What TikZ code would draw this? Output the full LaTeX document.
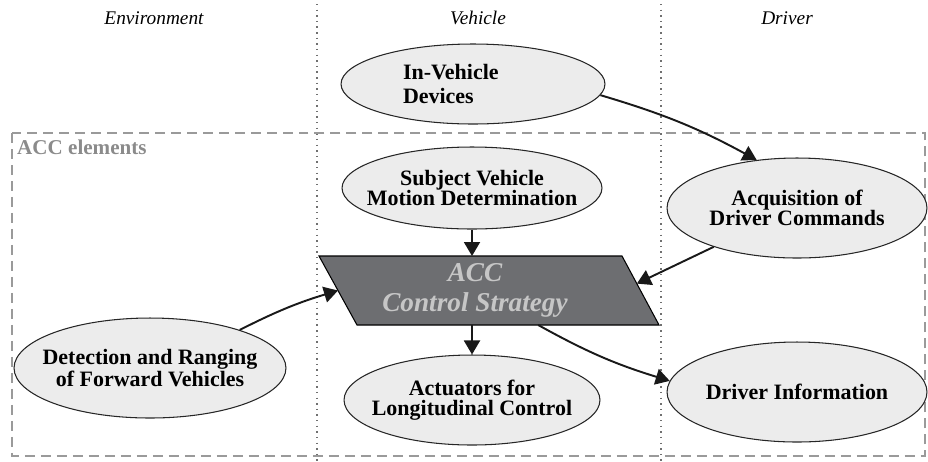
\documentclass[tikz,border=0pt]{standalone}
\usepackage{fontspec}
\setmainfont{Liberation Serif}
\usepackage{xcolor}
\usetikzlibrary{shapes.geometric, arrows.meta, calc}

\definecolor{ovalfill}{HTML}{ECECEC}
\definecolor{accfill}{HTML}{6D6E71}
\definecolor{acctext}{HTML}{C6C6C6}
\definecolor{framegray}{HTML}{9A9A9A}
\definecolor{zonegray}{HTML}{707070}

\begin{document}
\begin{tikzpicture}[
    x=0.02cm, y=-0.02cm,
    oval/.style={ellipse, draw=black!85, fill=ovalfill, line width=0.6pt, inner xsep=-0.4cm, inner ysep=0pt, align=center, font=\fontsize{12.5}{11.5}\selectfont\bfseries},
    strategy/.style={draw=black, fill=accfill, line width=0.6pt},
    strategytext/.style={align=center, text=acctext, font=\fontsize{15.5}{17}\selectfont\bfseries\itshape},
    zone/.style={font=\fontsize{11}{13}\selectfont\itshape},
    zoneline/.style={zonegray, line width=0.6pt, dash pattern=on 0.8pt off 2.4pt},
    frame/.style={framegray, line width=1.1pt, dash pattern=on 0.2cm off 0.12cm},
    arrow/.style={-{Triangle[length=0.28cm, width=0.32cm]}, line width=1.1pt, black!90}
]
\useasboundingbox (0,0) rectangle (928,461);

% domains
\draw[zoneline] (317,4) -- (317,461);
\draw[zoneline] (661,4) -- (661,461);
\node[zone] (env) at (154,18) {Environment};
\node[zone] (veh) at (478,18) {Vehicle};
\node[zone] (drv) at (787,18) {Driver};

% ACC elements frame
\draw[frame] (12,133) rectangle (925,456);
\node[anchor=west, text=framegray!90!black, font=\fontsize{12}{14}\selectfont\bfseries] (elems) at (11,147) {ACC elements};

% blocks
\node[oval, text width=2.8cm, align=left, minimum width=5.28cm, minimum height=1.6cm, font=\fontsize{12.5}{14}\selectfont\bfseries] (invd) at (473,84) {In-Vehicle\\Devices};
\node[oval, minimum width=5.2cm, minimum height=1.64cm] (sub) at (472,188) {Subject Vehicle\\Motion Determination};
\node[oval, minimum width=5.2cm, minimum height=2cm] (acq) at (797,208) {Acquisition of\\Driver Commands};

% control strategy (parallelogram)
\coordinate (acctl) at (319,256);
\coordinate (acctr) at (622,256);
\coordinate (accbr) at (659,325);
\coordinate (accbl) at (357,325);
\draw[strategy] (acctl) -- (acctr) -- (accbr) -- (accbl) -- cycle;
\node[strategytext] (acc) at (475,290) {ACC\\Control Strategy};

\node[oval, minimum width=5.44cm, minimum height=2cm, font=\fontsize{12.5}{13}\selectfont\bfseries] (det) at (150,368) {Detection and Ranging\\of Forward Vehicles};
\node[oval, minimum width=5.12cm, minimum height=1.8cm] (act) at (472,400) {Actuators for\\Longitudinal Control};
\node[oval, minimum width=5.2cm, minimum height=2cm] (drvinfo) at (797,392) {Driver Information};

% flows
\draw[arrow] (invd.-5) to[bend left=6] (acq.130);
\draw[arrow] (sub.south) -- (sub.south |- acctl);
\draw[arrow] (acq.205) -- ($(acctr)!0.4!(accbr)$);
\draw[arrow] (det.23) to[bend left=5] ($(acctl)!0.5!(accbl)$);
\draw[arrow] (act.north |- accbl) -- (act.north);
\draw[arrow] ($(accbl)!0.6!(accbr)$) to[bend right=6] (drvinfo.175);

\end{tikzpicture}
\end{document}
